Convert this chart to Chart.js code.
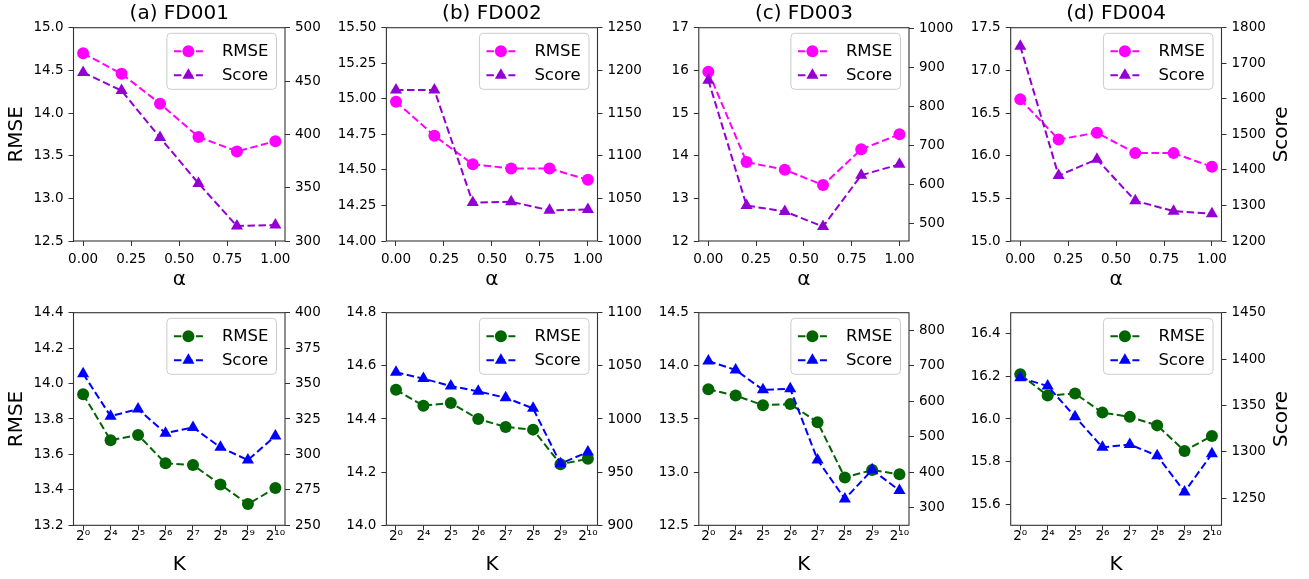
<!DOCTYPE html>
<html><head><meta charset="utf-8">
<script src="https://cdn.jsdelivr.net/npm/chart.js@4.4.0/dist/chart.umd.min.js"></script>
<style>
html,body{margin:0;padding:0;background:#fff;overflow:hidden;width:1309px;height:579px;position:relative;}
canvas{position:absolute;}
</style></head><body>
<script>
// ---------- data ----------
const alphaValues = [0, 0.2, 0.4, 0.6, 0.8, 1.0];
const alphaTickLabels = ['0.00', '0.25', '0.50', '0.75', '1.00'];
const kCategories = ['2⁰', '2⁴', '2⁵', '2⁶', '2⁷', '2⁸', '2⁹', '2¹⁰'];
const panelTitles = ['(a) FD001', '(b) FD002', '(c) FD003', '(d) FD004'];

const rmseAlphaFD001 = [14.70, 14.46, 14.11, 13.72, 13.55, 13.67];
const scoreAlphaFD001 = [458, 441, 397, 354, 314, 315];
const rmseAlphaFD002 = [14.98, 14.74, 14.54, 14.51, 14.51, 14.43];
const scoreAlphaFD002 = [1177, 1177, 1045, 1046, 1036, 1037];
const rmseAlphaFD003 = [15.97, 13.85, 13.67, 13.31, 14.15, 14.50];
const scoreAlphaFD003 = [867, 545, 530, 491, 623, 651];
const rmseAlphaFD004 = [16.66, 16.19, 16.27, 16.03, 16.03, 15.87];
const scoreAlphaFD004 = [1748, 1384, 1430, 1313, 1284, 1277];

const rmseKFD001 = [13.94, 13.68, 13.71, 13.55, 13.54, 13.43, 13.32, 13.41];
const scoreKFD001 = [357, 327, 332, 315, 319, 305, 296, 313];
const rmseKFD002 = [14.51, 14.45, 14.46, 14.40, 14.37, 14.36, 14.23, 14.25];
const scoreKFD002 = [1044, 1038, 1031, 1026, 1020, 1010, 958, 969];
const rmseKFD003 = [13.78, 13.72, 13.63, 13.64, 13.47, 12.95, 13.02, 12.98];
const scoreKFD003 = [713, 688, 632, 635, 435, 325, 407, 349];
const rmseKFD004 = [16.21, 16.11, 16.12, 16.03, 16.01, 15.97, 15.85, 15.92];
const scoreKFD004 = [1380, 1371, 1338, 1305, 1308, 1296, 1257, 1298];

// tick labels and axis ranges
const leftTicksAlphaFD001 = ['12.5', '13.0', '13.5', '14.0', '14.5', '15.0'];
const rightTicksAlphaFD001 = ['300', '350', '400', '450', '500'];
const leftRangeAlphaFD001 = [12.5, 15.0];
const rightRangeAlphaFD001 = [300, 500];
const leftTicksAlphaFD002 = ['14.00', '14.25', '14.50', '14.75', '15.00', '15.25', '15.50'];
const rightTicksAlphaFD002 = ['1000', '1050', '1100', '1150', '1200', '1250'];
const leftRangeAlphaFD002 = [14.0, 15.5];
const rightRangeAlphaFD002 = [1000, 1250];
const leftTicksAlphaFD003 = ['12', '13', '14', '15', '16', '17'];
const rightTicksAlphaFD003 = ['500', '600', '700', '800', '900', '1000'];
const leftRangeAlphaFD003 = [12, 17];
const rightRangeAlphaFD003 = [454, 1002];
const leftTicksAlphaFD004 = ['15.0', '15.5', '16.0', '16.5', '17.0', '17.5'];
const rightTicksAlphaFD004 = ['1200', '1300', '1400', '1500', '1600', '1700', '1800'];
const leftRangeAlphaFD004 = [15.0, 17.5];
const rightRangeAlphaFD004 = [1200, 1800];

const leftTicksKFD001 = ['13.2', '13.4', '13.6', '13.8', '14.0', '14.2', '14.4'];
const rightTicksKFD001 = ['250', '275', '300', '325', '350', '375', '400'];
const leftRangeKFD001 = [13.2, 14.4];
const rightRangeKFD001 = [250, 400];
const leftTicksKFD002 = ['14.0', '14.2', '14.4', '14.6', '14.8'];
const rightTicksKFD002 = ['900', '950', '1000', '1050', '1100'];
const leftRangeKFD002 = [14.0, 14.8];
const rightRangeKFD002 = [900, 1100];
const leftTicksKFD003 = ['12.5', '13.0', '13.5', '14.0', '14.5'];
const rightTicksKFD003 = ['300', '400', '500', '600', '700', '800'];
const leftRangeKFD003 = [12.5, 14.5];
const rightRangeKFD003 = [251, 849];
const leftTicksKFD004 = ['15.6', '15.8', '16.0', '16.2', '16.4'];
const rightTicksKFD004 = ['1250', '1300', '1350', '1400', '1450'];
const leftRangeKFD004 = [15.5, 16.5];
const rightRangeKFD004 = [1221, 1450];

// ---------- layout ----------
const colLayout = [
  {x: 0, w: 325, left: 73.5, right: 285},
  {x: 325, w: 320, left: 386.4, right: 597.5},
  {x: 645, w: 320, left: 698.8, right: 909},
  {x: 965, w: 344, left: 1010.7, right: 1221.5}
];
const rowLayout = [
  {y: 0, h: 300, top: 27.7, bottom: 241, xTitle: 'α', xTickPad: 5, xTitlePad: 8.6},
  {y: 290, h: 289, top: 312.7, bottom: 525.3, xTitle: 'K', xTickPad: -2, xTitlePad: 1.9}
];
const rowColors = [
  {rmse: '#ff00ff', score: '#9400d3'},
  {rmse: '#006400', score: '#0000ff'}
];

const panels = [
  {row: 0, col: 0, rmse: rmseAlphaFD001, score: scoreAlphaFD001, lt: leftTicksAlphaFD001, rt: rightTicksAlphaFD001, lr: leftRangeAlphaFD001, rr: rightRangeAlphaFD001},
  {row: 0, col: 1, rmse: rmseAlphaFD002, score: scoreAlphaFD002, lt: leftTicksAlphaFD002, rt: rightTicksAlphaFD002, lr: leftRangeAlphaFD002, rr: rightRangeAlphaFD002},
  {row: 0, col: 2, rmse: rmseAlphaFD003, score: scoreAlphaFD003, lt: leftTicksAlphaFD003, rt: rightTicksAlphaFD003, lr: leftRangeAlphaFD003, rr: rightRangeAlphaFD003},
  {row: 0, col: 3, rmse: rmseAlphaFD004, score: scoreAlphaFD004, lt: leftTicksAlphaFD004, rt: rightTicksAlphaFD004, lr: leftRangeAlphaFD004, rr: rightRangeAlphaFD004},
  {row: 1, col: 0, rmse: rmseKFD001, score: scoreKFD001, lt: leftTicksKFD001, rt: rightTicksKFD001, lr: leftRangeKFD001, rr: rightRangeKFD001},
  {row: 1, col: 1, rmse: rmseKFD002, score: scoreKFD002, lt: leftTicksKFD002, rt: rightTicksKFD002, lr: leftRangeKFD002, rr: rightRangeKFD002},
  {row: 1, col: 2, rmse: rmseKFD003, score: scoreKFD003, lt: leftTicksKFD003, rt: rightTicksKFD003, lr: leftRangeKFD003, rr: rightRangeKFD003},
  {row: 1, col: 3, rmse: rmseKFD004, score: scoreKFD004, lt: leftTicksKFD004, rt: rightTicksKFD004, lr: leftRangeKFD004, rr: rightRangeKFD004}
];

Chart.defaults.font.family = '"DejaVu Sans", sans-serif';
Chart.defaults.color = '#000';

function drawMarker(ctx, style, r, x, y, color) {
  ctx.fillStyle = color;
  ctx.beginPath();
  if (style === 'triangle') {
    let a = 0;
    ctx.moveTo(x + Math.sin(a) * r, y - Math.cos(a) * r);
    a += 2 * Math.PI / 3;
    ctx.lineTo(x + Math.sin(a) * r, y - Math.cos(a) * r);
    a += 2 * Math.PI / 3;
    ctx.lineTo(x + Math.sin(a) * r, y - Math.cos(a) * r);
    ctx.closePath();
  } else {
    ctx.arc(x, y, r, 0, Math.PI * 2);
  }
  ctx.fill();
}

const framePlugin = {
  id: 'frame',
  afterDatasetsDraw(chart, args, opts) {
    const ctx = chart.ctx, a = chart.chartArea;
    ctx.save();
    ctx.setLineDash([]);
    ctx.strokeStyle = '#333';
    ctx.lineWidth = 1.1;
    ctx.strokeRect(a.left, a.top, a.right - a.left, a.bottom - a.top);
    // legend
    ctx.font = '16.5px "DejaVu Sans"';
    const ds = chart.data.datasets;
    const tw = Math.max(...ds.map(d => ctx.measureText(d.label).width));
    const bw = 55 + tw + 8, bh = 56;
    const bx = a.right - 8.5 - bw, by = a.top + 5.6;
    ctx.beginPath();
    if (ctx.roundRect) ctx.roundRect(bx, by, bw, bh, 4); else ctx.rect(bx, by, bw, bh);
    ctx.fillStyle = 'rgba(255,255,255,0.8)';
    ctx.fill();
    ctx.strokeStyle = '#cccccc';
    ctx.lineWidth = 1;
    ctx.stroke();
    ds.forEach((d, i) => {
      const y = by + 18 + i * 24;
      ctx.strokeStyle = d.borderColor;
      ctx.lineWidth = 2;
      ctx.setLineDash(d.borderDash);
      ctx.beginPath();
      ctx.moveTo(bx + 7, y);
      ctx.lineTo(bx + 36, y);
      ctx.stroke();
      ctx.setLineDash([]);
      drawMarker(ctx, d.pointStyle, d.pointRadius, bx + 21.5, y, d.borderColor);
      ctx.fillStyle = '#000';
      ctx.textAlign = 'left';
      ctx.textBaseline = 'middle';
      ctx.fillText(d.label, bx + 55, y);
    });
    if (opts.rightTitle) {
      ctx.translate(opts.rightTitleX, (a.top + a.bottom) / 2);
      ctx.rotate(-Math.PI / 2);
      ctx.font = '20px "DejaVu Sans"';
      ctx.fillStyle = '#000';
      ctx.textAlign = 'center';
      ctx.textBaseline = 'middle';
      ctx.fillText(opts.rightTitle, 0, 0);
    }
    ctx.restore();
  }
};

const tickGrid = {display: true, drawOnChartArea: false, drawTicks: true, tickLength: 5, tickColor: '#333', tickWidth: 1};

panels.forEach(p => {
  const C = colLayout[p.col], R = rowLayout[p.row], col = rowColors[p.row];
  const cv = document.createElement('canvas');
  cv.width = C.w; cv.height = R.h;
  cv.style.left = C.x + 'px'; cv.style.top = R.y + 'px';
  cv.style.width = C.w + 'px'; cv.style.height = R.h + 'px';
  document.body.appendChild(cv);

  const xs = p.row === 0 ? alphaValues : kCategories.map((c, i) => i);
  const xTickVals = p.row === 0 ? alphaTickLabels.map(parseFloat) : kCategories.map((c, i) => i);
  const xTickText = p.row === 0 ? alphaTickLabels : kCategories;
  const xMin = p.row === 0 ? -0.05 : -0.35;
  const xMax = p.row === 0 ? 1.05 : 7.35;

  const common = {type: 'line', showLine: true, borderWidth: 2, borderDash: [7.5, 3.5], fill: false, tension: 0, pointBorderWidth: 0};
  new Chart(cv, {
    type: 'line',
    data: {
      datasets: [
        Object.assign({}, common, {label: 'RMSE', yAxisID: 'y', order: 2, data: p.rmse.map((v, i) => ({x: xs[i], y: v})),
          borderColor: col.rmse, backgroundColor: col.rmse, pointBackgroundColor: col.rmse, pointStyle: 'circle', pointRadius: 6}),
        Object.assign({}, common, {label: 'Score', yAxisID: 'y1', order: 1, data: p.score.map((v, i) => ({x: xs[i], y: v})),
          borderColor: col.score, backgroundColor: col.score, pointBackgroundColor: col.score, pointStyle: 'triangle', pointRadius: 7})
      ]
    },
    options: {
      responsive: false, animation: false, devicePixelRatio: 1,
      layout: {padding: {top: p.row === 0 ? 0 : R.top - R.y, left: 0, right: 0, bottom: 0}, autoPadding: false},
      plugins: {
        legend: {display: false}, tooltip: {enabled: false},
        title: {display: p.row === 0, text: panelTitles[p.col], fullSize: false, align: 'center',
          font: {size: 20, weight: 'normal'}, color: '#000', padding: {top: 1.7, bottom: 2}},
        frame: {rightTitle: p.col === 3 ? 'Score' : '', rightTitleX: 316.7}
      },
      scales: {
        x: {
          type: 'linear', position: 'bottom', min: xMin, max: xMax,
          afterBuildTicks: s => { s.ticks = xTickVals.map(v => ({value: v})); },
          afterFit: s => { s.height = R.h - (R.bottom - R.y); },
          ticks: {callback: (v, i) => xTickText[i], font: {size: 13.5}, color: '#000', padding: R.xTickPad, maxRotation: 0, autoSkip: false},
          grid: tickGrid, border: {display: false},
          title: {display: true, text: R.xTitle, font: {size: 20}, color: '#000', padding: {top: 0, bottom: R.xTitlePad}}
        },
        y: {
          type: 'linear', position: 'left', min: p.lr[0], max: p.lr[1],
          afterBuildTicks: s => { s.ticks = p.lt.map(t => ({value: parseFloat(t)})); },
          afterFit: s => { s.width = C.left - C.x; },
          ticks: {callback: (v, i) => p.lt[i], font: {size: 13.5}, color: '#000', padding: 5, autoSkip: false},
          grid: tickGrid, border: {display: false},
          title: {display: p.col === 0, text: 'RMSE', font: {size: 20}, color: '#000', padding: {top: 4.7, bottom: 0}}
        },
        y1: {
          type: 'linear', position: 'right', min: p.rr[0], max: p.rr[1],
          afterBuildTicks: s => { s.ticks = p.rt.map(t => ({value: parseFloat(t)})); },
          afterFit: s => { s.width = C.x + C.w - C.right; },
          ticks: {callback: (v, i) => p.rt[i], font: {size: 13.5}, color: '#000', padding: 5, autoSkip: false},
          grid: tickGrid, border: {display: false}
        }
      }
    },
    plugins: [framePlugin]
  });
});
</script>
</body></html>
